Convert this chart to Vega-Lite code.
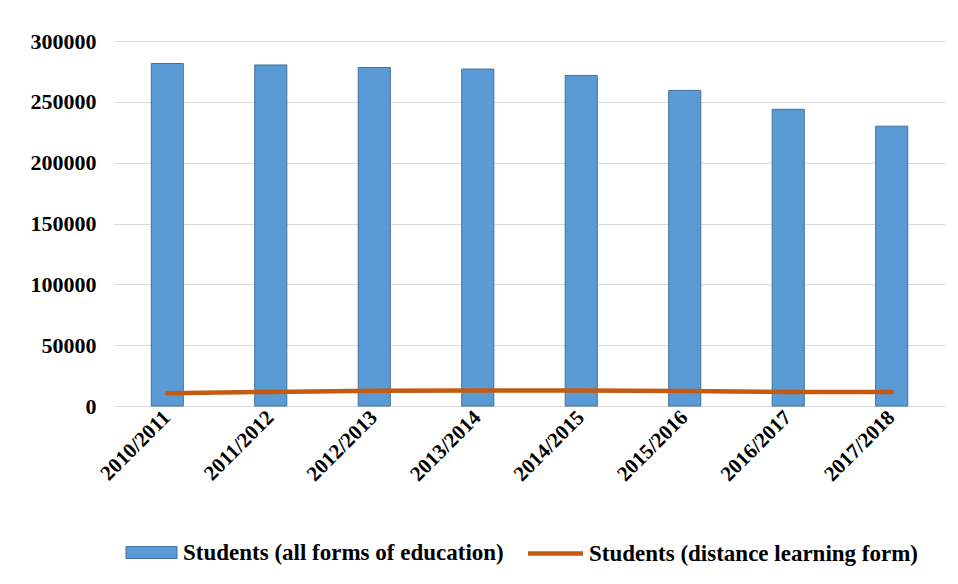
{
  "$schema": "https://vega.github.io/schema/vega-lite/v6.json",
  "autosize": {"type": "fit", "contains": "padding"},
  "width": 958,
  "height": 584,
  "padding": {"left": 30, "top": 30, "right": 13, "bottom": 18},
  "background": "white",
  "config": {
    "view": {"stroke": null},
    "font": "Liberation Serif",
    "axis": {"labelFont": "Liberation Serif", "labelFontWeight": "bold", "labelFontSize": 22, "labelColor": "#000000"},
    "legend": {"labelFont": "Liberation Serif", "labelFontWeight": "bold", "labelFontSize": 23, "labelColor": "#000000", "labelLimit": 0,
      "layout": {"bottom": {"anchor": "middle", "direction": "horizontal", "margin": 39, "bounds": "full"}}}
  },
  "data": {
    "values": [
      {"year": "2010/2011", "all": 281500, "distance": 10500},
      {"year": "2011/2012", "all": 280300, "distance": 11600},
      {"year": "2012/2013", "all": 278200, "distance": 12500},
      {"year": "2013/2014", "all": 276900, "distance": 12800},
      {"year": "2014/2015", "all": 271700, "distance": 12800},
      {"year": "2015/2016", "all": 259400, "distance": 12400},
      {"year": "2016/2017", "all": 243900, "distance": 11600},
      {"year": "2017/2018", "all": 230000, "distance": 11500}
    ]
  },
  "encoding": {
    "x": {
      "field": "year", "type": "nominal", "sort": null,
      "scale": {"paddingInner": 0.69, "paddingOuter": 0.36},
      "axis": {"title": null, "labelAngle": -45, "ticks": false, "domain": false, "labelPadding": 8, "labelAlign": "right", "labelBaseline": "middle", "labelFontSize": 21}
    }
  },
  "layer": [
    {
      "mark": {"type": "bar", "stroke": "#41719C", "strokeWidth": 1},
      "encoding": {
        "y": {
          "field": "all", "type": "quantitative",
          "scale": {"domain": [0, 300000]},
          "axis": {"title": null, "values": [0, 50000, 100000, 150000, 200000, 250000, 300000], "format": "d", "labelOverlap": false, "ticks": false, "domain": false, "gridColor": "#D9D9D9", "gridWidth": 1, "labelPadding": 18}
        },
        "fill": {
          "datum": "Students (all forms of education)",
          "type": "nominal",
          "scale": {"range": ["#5B9BD5"]},
          "legend": {"title": null, "orient": "bottom", "symbolType": "M-2.55,-0.6H2.55V0.6H-2.55Z", "symbolSize": 400, "symbolStrokeColor": "#41719C", "symbolStrokeWidth": 1, "symbolOpacity": 1, "labelOffset": 20, "offset": 56}
        }
      }
    },
    {
      "mark": {"type": "line", "strokeWidth": 4.5, "strokeCap": "round"},
      "encoding": {
        "y": {"field": "distance", "type": "quantitative"},
        "stroke": {
          "datum": "Students (distance learning form)",
          "type": "nominal",
          "scale": {"range": ["#C55A11"]},
          "legend": {"title": null, "orient": "bottom", "symbolType": "M-2.75,0H2.75", "symbolSize": 400, "symbolStrokeWidth": 4.5, "labelOffset": 21, "offset": 56}
        }
      }
    }
  ]
}
